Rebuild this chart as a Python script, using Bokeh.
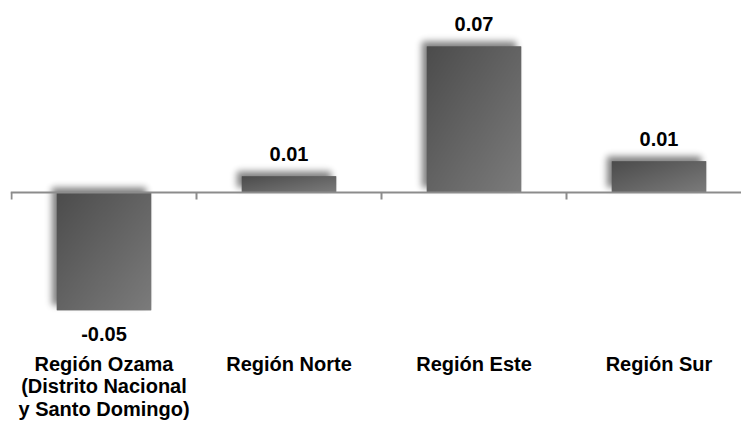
import math
import numpy as np
from bokeh.plotting import figure
from bokeh.models import Range1d, Span, ColumnDataSource
from bokeh.core.properties import value
from bokeh.embed import file_html
from bokeh.resources import INLINE

# ---- data ----
categories = ["Región Ozama\n(Distrito Nacional\ny Santo Domingo)",
              "Región Norte", "Región Este", "Región Sur"]
values = [-0.054, 0.0074, 0.067, 0.0143]
value_labels = ["-0.05", "0.01", "0.07", "0.01"]

# ---- layout constants ----
W, H = 741, 421
ML = 10
frame_w = W - ML
frame_h = H
zero_px = 192.0          # distance of the zero line from the frame top
px_per_cat = 185.0
px_per_unit = 2180.0
bar_width = 0.51
x_start = -1.0 / px_per_cat

x_end = x_start + frame_w / px_per_cat
y_top = zero_px / px_per_unit
y_bot = -(frame_h - zero_px) / px_per_unit

p = figure(width=W, height=H, x_range=Range1d(x_start, x_end), y_range=Range1d(y_bot, y_top),
           output_backend="svg", toolbar_location=None,
           x_axis_type=None, y_axis_type=None,
           min_border_left=ML, min_border_right=0, min_border_top=0, min_border_bottom=0)
p.grid.visible = False
p.outline_line_color = None
p.background_fill_color = "white"
p.border_fill_color = "white"

xs = [i + 0.5 for i in range(len(values))]

erf = np.vectorize(math.erf)


def band(coords, a, b, sigma):
    s = sigma * math.sqrt(2.0)
    return 0.5 * (erf((coords - a) / s) - erf((coords - b) / s))


def to_rgba(gray, alpha):
    ny, nx = gray.shape
    arr = np.zeros((ny, nx, 4), dtype=np.uint8)
    arr[..., 0] = gray
    arr[..., 1] = gray
    arr[..., 2] = gray
    arr[..., 3] = alpha
    return arr.view(dtype=np.uint32).reshape((ny, nx))


# ---- soft shadows (up-left) and gradient fills ----
pad = 16
off = 5.0
sigma = 3.5
sh_img, sh_x, sh_y, sh_dw, sh_dh = [], [], [], [], []
gr_img, gr_x, gr_y, gr_dw, gr_dh = [], [], [], [], []
for x, v in zip(xs, values):
    left = x - bar_width / 2
    bottom = min(0.0, v)
    w_px = bar_width * px_per_cat
    h_px = abs(v) * px_per_unit
    nx = int(round(w_px + 2 * pad))
    ny = int(round(h_px + 2 * pad))
    X = np.arange(nx) + 0.5 - pad
    Y = np.arange(ny) + 0.5 - pad
    ax = band(X, -off, w_px - off, sigma)
    ay = band(Y, off, h_px + off, sigma)
    alpha = (0.5 * 255 * np.outer(ay, ax)).clip(0, 255).astype(np.uint8)
    sh_img.append(to_rgba(np.zeros_like(alpha), alpha))
    sh_x.append(left - pad / px_per_cat)
    sh_y.append(bottom - pad / px_per_unit)
    sh_dw.append(nx / px_per_cat)
    sh_dh.append(ny / px_per_unit)

    gx = max(2, int(round(w_px)))
    gy = max(2, int(round(h_px)))
    u = (np.arange(gx) + 0.5) / gx
    vv = (np.arange(gy) + 0.5) / gy      # row 0 = bottom
    t = (u[None, :] + 1.0 - vv[:, None]) / 2.0
    gray = (0x4c + t * (0x7c - 0x4c)).astype(np.uint8)
    gr_img.append(to_rgba(gray, np.full_like(gray, 255)))
    gr_x.append(left)
    gr_y.append(bottom)
    gr_dw.append(bar_width)
    gr_dh.append(abs(v))

p.image_rgba(image="image", x="x", y="y", dw="dw", dh="dh",
             source=ColumnDataSource(dict(image=sh_img, x=sh_x, y=sh_y, dw=sh_dw, dh=sh_dh)))

bar_src = ColumnDataSource(dict(x=xs, top=values))
p.vbar(x="x", top="top", bottom=0, width=bar_width, fill_color="#646464", line_color=None, source=bar_src)

p.image_rgba(image="image", x="x", y="y", dw="dw", dh="dh",
             source=ColumnDataSource(dict(image=gr_img, x=gr_x, y=gr_y, dw=gr_dw, dh=gr_dh)))

# ---- zero line and category ticks ----
p.add_layout(Span(location=0, dimension="width", line_color="#8c8c8c", line_width=2, level="overlay"))
boundaries = list(range(len(values) + 1))
p.ray(x=boundaries, y=[0] * len(boundaries), length=7, length_units="screen",
      angle=-math.pi / 2, line_color="#8c8c8c", line_width=2)

# ---- value labels ----
lab_src = ColumnDataSource(dict(x=xs, y=values, text=value_labels,
                                yoff=[-22 if v >= 0 else 24 for v in values]))
p.text(x="x", y="y", text="text", y_offset="yoff", source=lab_src,
       text_align="center", text_baseline="middle",
       text_font=value("Liberation Sans"), text_font_style="bold",
       text_font_size="20px", text_color="black")

# ---- category labels ----
cat_src = ColumnDataSource(dict(x=xs, y=[0] * len(xs), text=categories))
p.text(x="x", y="y", text="text", y_offset=160, source=cat_src,
       text_align="center", text_baseline="top", text_line_height=1.03,
       text_font=value("Liberation Sans"), text_font_style="bold",
       text_font_size="20px", text_color="black")

open("out.html", "w").write(file_html(p, INLINE))
